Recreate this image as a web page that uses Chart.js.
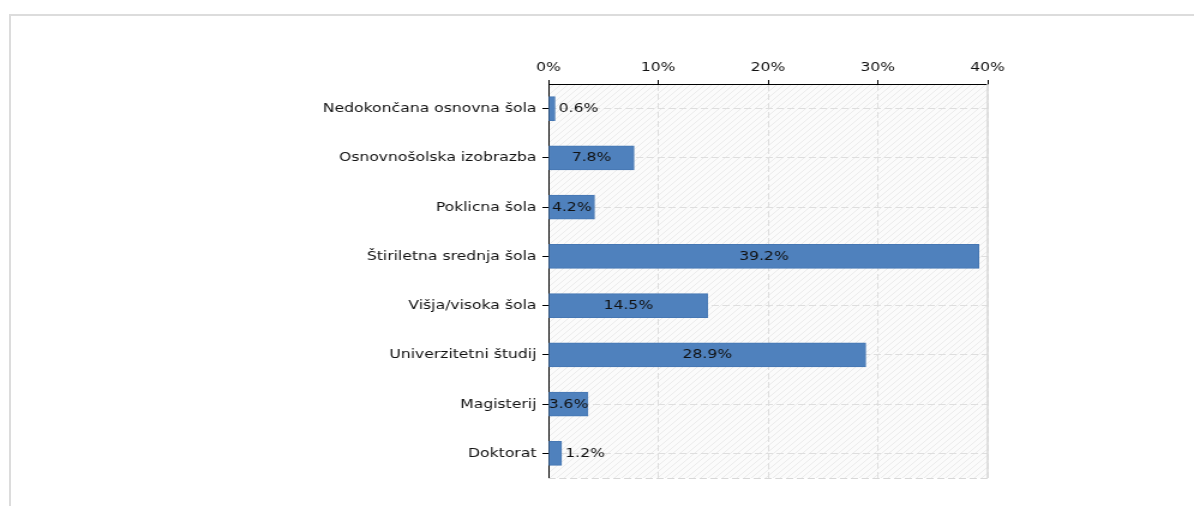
<!DOCTYPE html>
<html>
<head>
<meta charset="utf-8">
<script src="https://cdn.jsdelivr.net/npm/chart.js@4"></script>
<style>
  html, body { margin: 0; padding: 0; background: #fff; overflow: hidden; }
  #frame {
    position: absolute; left: 9px; top: 14px; width: 1200px; height: 520px;
    border: 2px solid #dcdcdc; box-sizing: border-box;
  }
  /* the reference is drawn a bit wider than tall, so stretch the chart sideways */
  #wrap {
    position: absolute; left: 0; top: 0; width: 995px; height: 506px;
    transform: scaleX(1.2); transform-origin: 0 0;
  }
</style>
</head>
<body>
<div id="frame"></div>
<div id="wrap"><canvas id="chart" width="995" height="506"></canvas></div>
<script>
// Chart data
const categories = [
  'Nedokončana osnovna šola',
  'Osnovnošolska izobrazba',
  'Poklicna šola',
  'Štiriletna srednja šola',
  'Višja/visoka šola',
  'Univerzitetni študij',
  'Magisterij',
  'Doktorat',
];
const shares = [0.6, 7.8, 4.2, 39.2, 14.5, 28.9, 3.6, 1.2];
const xTicks = [0, 10, 20, 30, 40];

const BAR_COLOR = '#4f81bd';
const TEXT_COLOR = '#111';
const GRID_COLOR = '#dedede';

Chart.defaults.font.family = "'DejaVu Sans', sans-serif";
Chart.defaults.font.size = 13;
Chart.defaults.color = TEXT_COLOR;

// Hatched plot background
function makeHatch() {
  const p = document.createElement('canvas');
  p.width = 6;
  p.height = 6;
  const c = p.getContext('2d');
  c.fillStyle = '#fbfbfb';
  c.fillRect(0, 0, 6, 6);
  c.strokeStyle = '#ebebeb';
  c.lineWidth = 1;
  c.beginPath();
  c.moveTo(0, 6); c.lineTo(6, 0);
  c.moveTo(-3, 3); c.lineTo(3, -3);
  c.moveTo(3, 9); c.lineTo(9, 3);
  c.stroke();
  return p;
}

const plotBackground = {
  id: 'plotBackground',
  beforeDraw(chart) {
    const { ctx, chartArea: a } = chart;
    ctx.save();
    ctx.fillStyle = ctx.createPattern(makeHatch(), 'repeat');
    ctx.fillRect(a.left, a.top, a.right - a.left, a.bottom - a.top);
    ctx.restore();
  },
  afterDraw(chart) {
    const { ctx, chartArea: a } = chart;
    ctx.save();
    ctx.strokeStyle = '#d8d8d8';
    ctx.lineWidth = 1.5;
    ctx.beginPath();
    ctx.moveTo(a.right, a.top);
    ctx.lineTo(a.right, a.bottom);
    ctx.stroke();
    ctx.setLineDash([6, 3]);
    ctx.lineWidth = 1;
    ctx.beginPath();
    ctx.moveTo(a.left, a.bottom + 0.5);
    ctx.lineTo(a.right, a.bottom + 0.5);
    ctx.stroke();
    ctx.restore();
  },
};

// Value labels: centred in long bars, after the end of short ones
const valueLabels = {
  id: 'valueLabels',
  afterDatasetsDraw(chart) {
    const { ctx } = chart;
    const meta = chart.getDatasetMeta(0);
    ctx.save();
    ctx.font = "13px 'DejaVu Sans', sans-serif";
    ctx.fillStyle = TEXT_COLOR;
    ctx.textBaseline = 'middle';
    meta.data.forEach((bar, i) => {
      const text = shares[i].toFixed(1) + '%';
      const w = bar.x - bar.base;
      if (w >= 25) {
        ctx.textAlign = 'center';
        ctx.fillText(text, (bar.x + bar.base) / 2, bar.y);
      } else {
        ctx.textAlign = 'left';
        ctx.fillText(text, bar.x + 3, bar.y);
      }
    });
    ctx.restore();
  },
};

new Chart(document.getElementById('chart'), {
  type: 'bar',
  data: {
    labels: categories,
    datasets: [{
      data: shares,
      backgroundColor: BAR_COLOR,
      borderColor: '#4677b3',
      borderWidth: 1,
      borderSkipped: false,
      barThickness: 24,
    }],
  },
  options: {
    indexAxis: 'y',
    responsive: false,
    animation: false,
    layout: {
      padding: { left: 0, right: 172, top: 0, bottom: 28 },
    },
    plugins: {
      legend: { display: false },
      tooltip: { enabled: false },
    },
    scales: {
      x: {
        position: 'top',
        min: xTicks[0],
        max: xTicks[xTicks.length - 1],
        afterBuildTicks(scale) {
          scale.ticks = xTicks.map(v => ({ value: v }));
        },
        afterFit(scale) {
          scale.height = 84;
        },
        ticks: {
          padding: 5,
          callback: v => v + '%',
        },
        grid: {
          color: GRID_COLOR,
          tickColor: '#000',
          tickLength: 4,
        },
        border: { color: '#000', width: 1, dash: [6, 3] },
      },
      y: {
        afterFit(scale) {
          scale.width = 457;
        },
        ticks: { padding: 5 },
        grid: {
          offset: false,
          color: GRID_COLOR,
          tickColor: '#000',
          tickLength: 5,
        },
        border: { color: '#000', width: 1, dash: [6, 3] },
      },
    },
  },
  plugins: [plotBackground, valueLabels],
});
</script>
</body>
</html>
